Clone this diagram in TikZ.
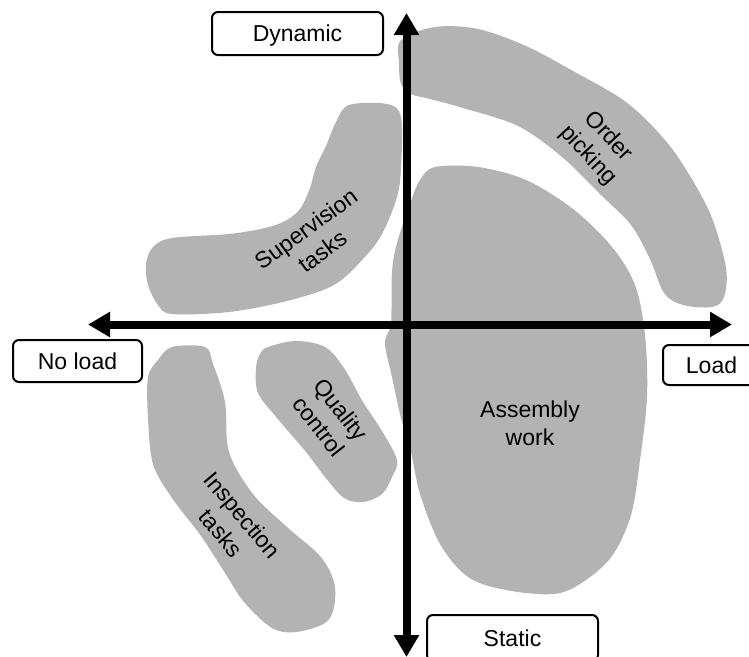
\documentclass[tikz,border=0pt]{standalone}
\usepackage{fontspec}
\setmainfont{Liberation Sans}
\usetikzlibrary{arrows.meta}
\definecolor{blobgray}{RGB}{179,179,179}
\tikzset{
  blob/.style={fill=blobgray, draw=none},
  axis/.style={line width=8pt, {Triangle[length=22pt,width=24pt]}-{Triangle[length=22pt,width=24pt]}},
  tag/.style={draw=black, line width=2pt, rounded corners=6pt, fill=white, inner sep=0pt,
    text height=16.5pt, text depth=0pt, font=\fontsize{23}{28}\selectfont},
  area/.style={align=center, inner sep=0pt, font=\fontsize{23}{28}\selectfont}
}
\begin{document}
\begin{tikzpicture}[x=1pt,y=-1pt]
\useasboundingbox (0,0) rectangle (749,656);

% activity regions
\fill[blob] plot[smooth cycle, tension=0.55] coordinates {
  (401,40) (435,27) (478,29) (526,46) (573,71) (626,102) (665,140) (690,176)
  (712,218) (726,268) (724,297) (712,307) (683,305) (664,293) (650,259)
  (631,225) (602,196) (562,157) (518,126) (463,108) (430,99) (411,94)
  (401,84) (399,63)};
\fill[blob] plot[smooth cycle, tension=0.55] coordinates {
  (349,105) (387,104) (401,117) (401,167) (397,197) (382,234) (363,259)
  (334,285) (287,301) (229,312) (172,314) (158,305) (148,285) (146,264)
  (153,247) (172,238) (229,234) (265,228) (285,221) (300,209) (310,188)
  (316,167) (326,146) (336,122)};
\fill[blob] plot[smooth cycle, tension=0.55] coordinates {
  (435,167) (478,167) (526,180) (573,209) (612,247) (635,285) (645,335)
  (647,397) (640,460) (631,515) (612,556) (583,582) (554,594) (506,590)
  (468,577) (440,544) (420,494) (411,452) (401,418) (392,377) (385,343)
  (391,323) (392,272) (397,243) (411,201) (420,180)};
\fill[blob] plot[smooth cycle, tension=0.55] coordinates {
  (268,347) (296,341) (325,347) (344,368) (363,402) (382,431) (397,460)
  (392,477) (382,494) (363,502) (344,498) (325,477) (306,452) (277,418)
  (258,393) (256,368) (260,354)};
\fill[blob] plot[smooth cycle, tension=0.55] coordinates {
  (172,347) (205,347) (213,364) (225,402) (229,452) (253,494) (287,527)
  (320,556) (334,582) (334,607) (325,623) (296,632) (272,628) (244,602)
  (225,573) (201,536) (172,498) (153,464) (148,418) (148,377) (158,360)};

% region labels
\node[area, rotate=-47] (order) at (598,146) {Order\\picking};
\node[area, rotate=36] (super) at (314,240) {Supervision\\tasks};
\node[area] (assembly) at (530,423) {Assembly\\work};
\node[area, rotate=-52] (quality) at (330,418) {Quality\\control};
\node[area, rotate=-50] (inspect) at (232,524) {Inspection\\tasks};

% axes
\coordinate (top) at (406.5,13);
\coordinate (bottom) at (406.5,657);
\coordinate (left) at (88,324.5);
\coordinate (right) at (732,324.5);
\draw[axis] (left) -- (right);
\draw[axis] (bottom) -- (top);

% axis end labels
\node[tag, minimum width=171pt, minimum height=43pt] (dynamic) at (297.5,33.5) {Dynamic};
\node[tag, minimum width=129pt, minimum height=42pt] (noload) at (77.5,361) {No load};
\node[tag, minimum width=97pt, minimum height=40pt] (load) at (711.5,365) {Load};
\node[tag, minimum width=171pt, minimum height=46pt] (static) at (512.5,638) {Static};
\end{tikzpicture}
\end{document}
